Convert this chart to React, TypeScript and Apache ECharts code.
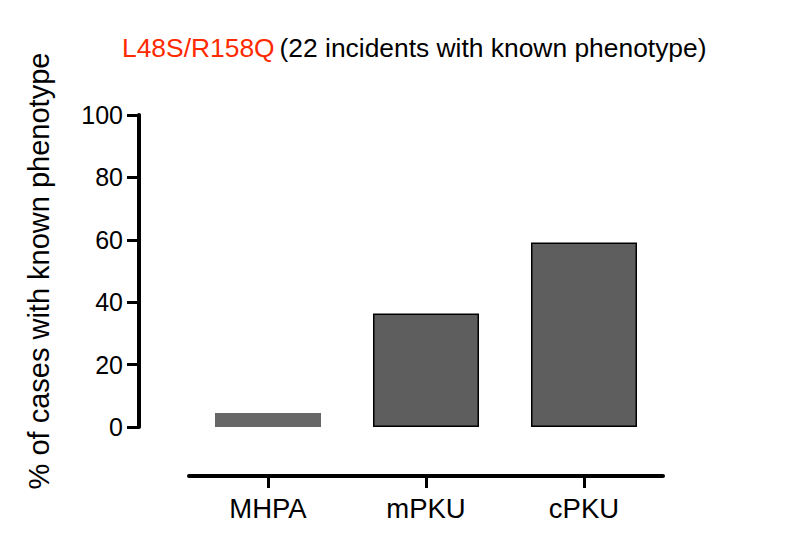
import React, { useEffect, useRef } from "react";
import * as echarts from "echarts";

const categories = ["MHPA", "mPKU", "cPKU"];
const percentValues = [4.5, 36.4, 59.1];
const yTicks = { min: 0, max: 100, interval: 20 };
const titleHighlight = "L48S/R158Q";
const titleRest = "(22 incidents with known phenotype)";
const yAxisTitle = "% of cases with known phenotype";

const FONT = "'Liberation Sans', Arial, Helvetica, sans-serif";

export default function App() {
  const ref = useRef<HTMLDivElement>(null);
  useEffect(() => {
    if (!ref.current) return;
    const chart = echarts.init(ref.current, undefined, { renderer: "svg" });
    const barStyles = [
      { color: "#676767", borderWidth: 0 },
      { color: "#5e5e5e", borderColor: "#000", borderWidth: 1.5 },
      { color: "#5e5e5e", borderColor: "#000", borderWidth: 1.5 },
    ];
    chart.setOption({
      animation: false,
      backgroundColor: "#fff",
      title: {
        text: `{r|${titleHighlight}} {b|${titleRest}}`,
        left: 117,
        top: 30,
        textStyle: {
          fontWeight: "normal",
          rich: {
            r: { color: "#ff2a00", fontSize: 26.4, fontWeight: "normal", fontFamily: FONT },
            b: { color: "#000", fontSize: 26.4, fontWeight: "normal", fontFamily: FONT },
          },
        },
      },
      grid: { left: 189, right: 137, top: 115, bottom: 123 },
      xAxis: {
        type: "category",
        data: categories,
        offset: 49,
        axisLine: { show: true, onZero: false, lineStyle: { color: "#000", width: 4 } },
        axisTick: {
          show: true,
          inside: false,
          alignWithLabel: true,
          length: 12,
          lineStyle: { color: "#000", width: 3 },
        },
        axisLabel: { color: "#000", fontSize: 27.5, fontFamily: FONT, margin: 18 },
      },
      yAxis: {
        type: "value",
        min: yTicks.min,
        max: yTicks.max,
        interval: yTicks.interval,
        offset: 50,
        name: yAxisTitle,
        nameLocation: "middle",
        nameGap: 86,
        nameTextStyle: { color: "#000", fontSize: 29, fontFamily: FONT },
        axisLine: { show: true, onZero: false, lineStyle: { color: "#000", width: 4 } },
        axisTick: { show: true, length: 12, lineStyle: { color: "#000", width: 3 } },
        axisLabel: { color: "#000", fontSize: 25, fontFamily: FONT, margin: 16 },
        splitLine: { show: false },
      },
      series: [
        {
          type: "bar",
          barWidth: 106,
          data: percentValues.map((v, i) => ({ value: v, itemStyle: barStyles[i] })),
        },
      ],
    });
    return () => chart.dispose();
  }, []);
  return (
    <div
      ref={ref}
      style={{ position: "absolute", left: 0, top: 0, width: 800, height: 550 }}
    />
  );
}
